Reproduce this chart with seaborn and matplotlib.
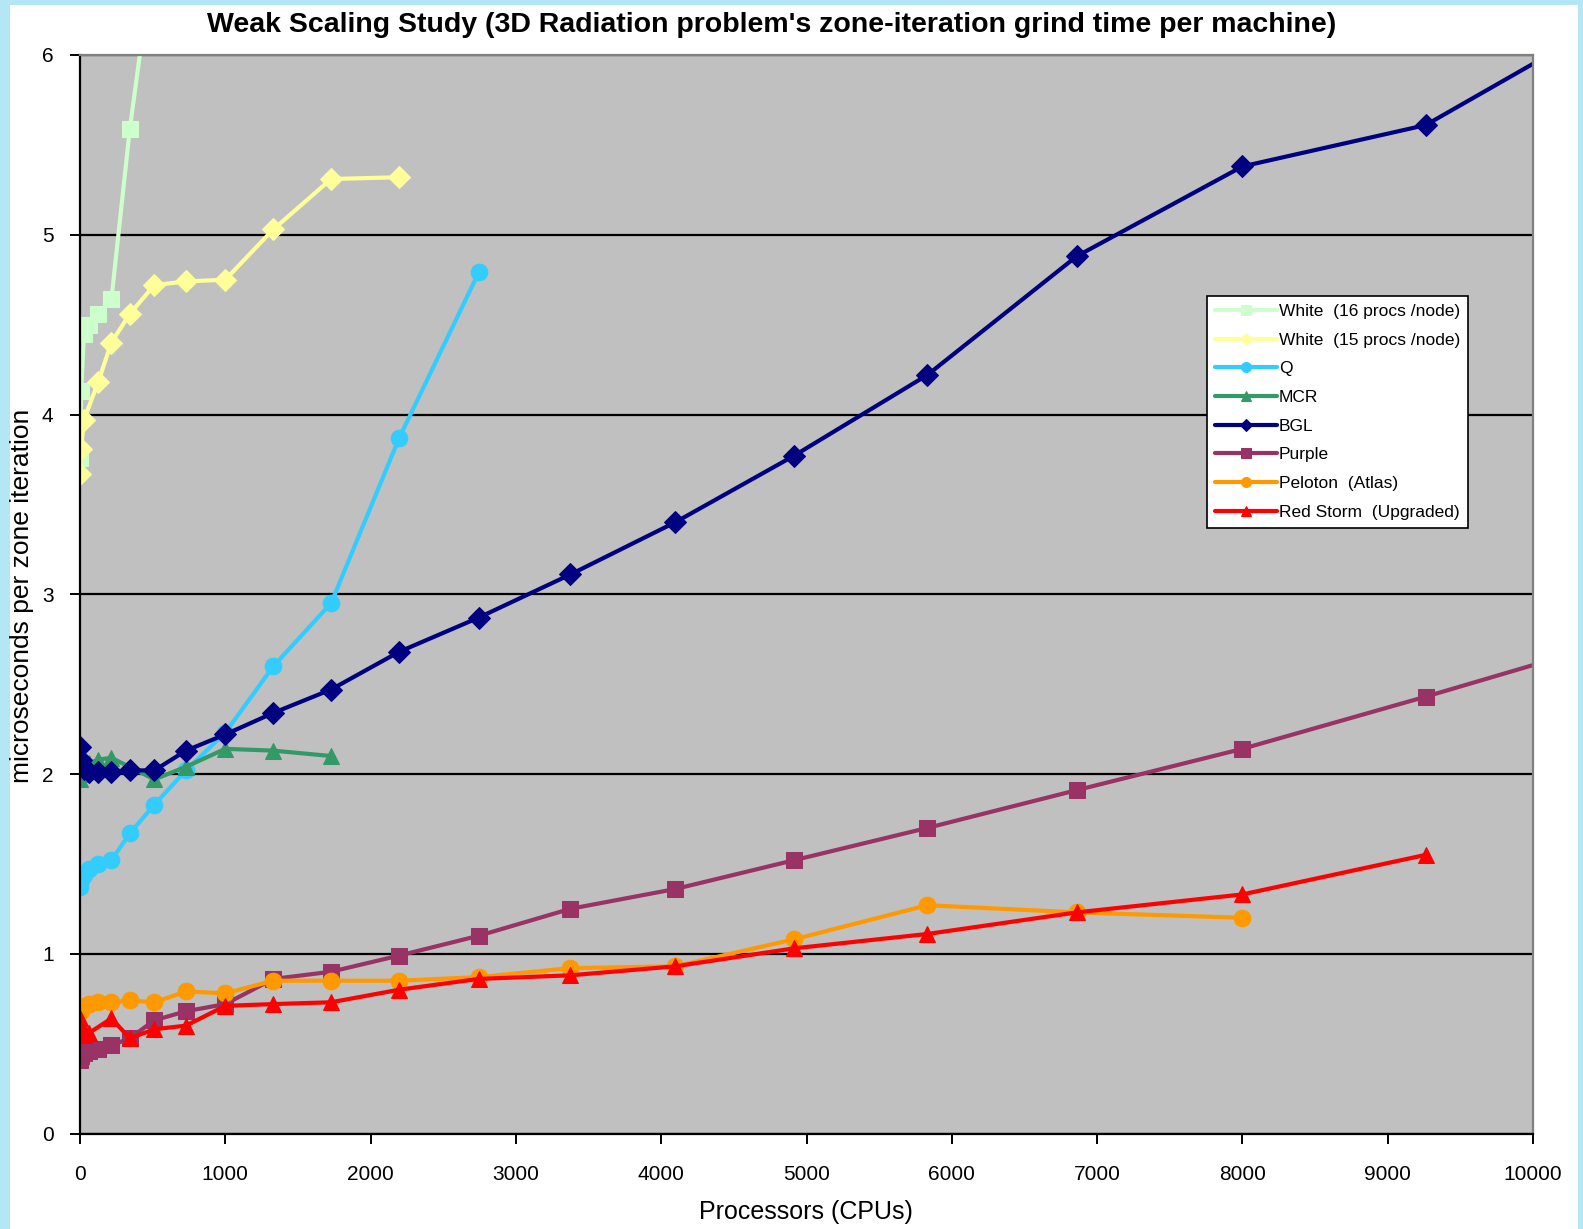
import numpy as np
import pandas as pd
import matplotlib
matplotlib.use("Agg")
import matplotlib.pyplot as plt
from matplotlib.patches import Rectangle
import seaborn as sns

# processor counts are cubes (weak scaling of a 3D problem)
white16_procs = [1, 8, 27, 64, 125, 216, 343, 512]
white16_vals = [3.76, 4.13, 4.45, 4.50, 4.56, 4.64, 5.59, 6.60]

white15_procs = [1, 8, 27, 125, 216, 343, 512, 729, 1000, 1331, 1728, 2197]
white15_vals = [3.67, 3.81, 3.97, 4.18, 4.40, 4.56, 4.72, 4.74, 4.75, 5.03, 5.31, 5.32]

q_procs = [1, 8, 27, 64, 125, 216, 343, 512, 729, 1000, 1331, 1728, 2197, 2744]
q_vals = [1.37, 1.41, 1.44, 1.47, 1.50, 1.52, 1.67, 1.83, 2.02, 2.23, 2.60, 2.95, 3.87, 4.79]

mcr_procs = [1, 8, 64, 125, 216, 512, 729, 1000, 1331, 1728]
mcr_vals = [1.97, 2.00, 2.06, 2.08, 2.09, 1.97, 2.04, 2.14, 2.13, 2.10]

bgl_procs = [1, 8, 27, 64, 125, 216, 343, 512, 729, 1000, 1331, 1728, 2197, 2744,
             3375, 4096, 4913, 5832, 6859, 8000, 9261, 10648]
bgl_vals = [2.15, 2.08, 2.03, 2.01, 2.01, 2.01, 2.02, 2.02, 2.13, 2.22, 2.34, 2.47, 2.68, 2.87,
            3.11, 3.40, 3.77, 4.22, 4.88, 5.38, 5.61, 6.25]

purple_procs = [1, 8, 27, 64, 125, 216, 343, 512, 729, 1000, 1331, 1728, 2197, 2744,
                3375, 4096, 4913, 5832, 6859, 8000, 9261, 10648]
purple_vals = [0.41, 0.43, 0.45, 0.46, 0.47, 0.49, 0.53, 0.63, 0.68, 0.72, 0.86, 0.90, 0.99, 1.10,
               1.25, 1.36, 1.52, 1.70, 1.91, 2.14, 2.43, 2.76]

peloton_procs = [8, 27, 64, 125, 216, 343, 512, 729, 1000, 1331, 1728, 2197, 2744,
                 3375, 4096, 4913, 5832, 6859, 8000]
peloton_vals = [0.68, 0.71, 0.72, 0.73, 0.73, 0.74, 0.73, 0.79, 0.78, 0.85, 0.85, 0.85, 0.87,
                0.92, 0.93, 1.08, 1.27, 1.23, 1.20]

redstorm_procs = [1, 8, 27, 64, 216, 343, 512, 729, 1000, 1331, 1728, 2197, 2744,
                  3375, 4096, 4913, 5832, 6859, 8000, 9261]
redstorm_vals = [0.64, 0.61, 0.55, 0.56, 0.64, 0.53, 0.58, 0.60, 0.71, 0.72, 0.73, 0.80, 0.86,
                 0.88, 0.93, 1.03, 1.11, 1.23, 1.33, 1.55]

series = [
    ("White  (16 procs /node)", white16_procs, white16_vals, "#CCFFCC", "s"),
    ("White  (15 procs /node)", white15_procs, white15_vals, "#FFFF99", "D"),
    ("Q", q_procs, q_vals, "#33CCFF", "o"),
    ("MCR", mcr_procs, mcr_vals, "#339966", "^"),
    ("BGL", bgl_procs, bgl_vals, "#000080", "D"),
    ("Purple", purple_procs, purple_vals, "#993366", "s"),
    ("Peloton  (Atlas)", peloton_procs, peloton_vals, "#FF9900", "o"),
    ("Red Storm  (Upgraded)", redstorm_procs, redstorm_vals, "#FF0000", "^"),
]

sns.set_theme(style="white")
plt.rcParams['font.family'] = ['Liberation Sans', 'DejaVu Sans']
plt.rcParams['text.color'] = 'black'
plt.rcParams['xtick.color'] = 'black'
plt.rcParams['ytick.color'] = 'black'

fig = plt.figure(figsize=(15.83, 12.29), dpi=100)
fig.patch.set_facecolor("#B4E6F5")
fig.patches.append(Rectangle((10 / 1583, 0), 1568 / 1583, 1224 / 1229,
                             transform=fig.transFigure, facecolor="white",
                             edgecolor="none", zorder=-10))

ax = fig.add_axes([80 / 1583, 1 - 1133.5 / 1229, (1533 - 80) / 1583, (1133.5 - 55) / 1229])
ax.set_facecolor("#C0C0C0")

for name, procs, vals, color, mk in series:
    df = pd.DataFrame({"procs": procs, "val": vals})
    sns.lineplot(data=df, x="procs", y="val", ax=ax, color=color, marker=mk,
                 markersize=12 if mk != "D" else 11, markeredgecolor=color,
                 linewidth=3, label=name, sort=False)

ax.set_xlim(0, 10000)
ax.set_ylim(0, 6)
ax.set_xticks(np.arange(0, 10001, 1000))
ax.set_yticks(np.arange(0, 7, 1))
ax.yaxis.grid(True, color="black", linewidth=1.6)
ax.xaxis.grid(False)
ax.set_axisbelow(True)

for side in ["left", "bottom"]:
    ax.spines[side].set_color("black")
    ax.spines[side].set_linewidth(1.6)
for side in ["top", "right"]:
    ax.spines[side].set_color("#808080")
    ax.spines[side].set_linewidth(1.6)

ax.tick_params(axis="both", which="major", direction="out", length=7, width=1.4,
               color="black", labelcolor="black", labelsize=15, left=True, bottom=True)
ax.tick_params(axis="x", pad=16)
ax.tick_params(axis="y", pad=12)

ax.set_xlabel("")
ax.set_ylabel("")
fig.text(806 / 1583, 1 - 1212 / 1229, "Processors (CPUs)", ha="center", va="center",
         fontsize=18, color="black")
fig.text(22 / 1583, 1 - 596 / 1229, "microseconds per zone iteration", ha="center", va="center",
         rotation=90, fontsize=19, color="black")
fig.text(772 / 1583, 1 - 25 / 1229,
         "Weak Scaling Study (3D Radiation problem's zone-iteration grind time per machine)",
         ha="center", va="center", fontsize=20.5, fontweight="bold", color="black")

leg = ax.legend(loc="upper left", bbox_to_anchor=(0.7755, 0.7765), borderaxespad=0,
                fancybox=False, framealpha=1, edgecolor="black", fontsize=12.5,
                handlelength=3.6, handletextpad=0.1, labelspacing=0.78,
                borderpad=0.45, markerscale=0.6)
leg.get_frame().set_linewidth(1.2)
for t in leg.get_texts():
    t.set_color("black")

fig.savefig("out.png", dpi=100, facecolor=fig.get_facecolor())
